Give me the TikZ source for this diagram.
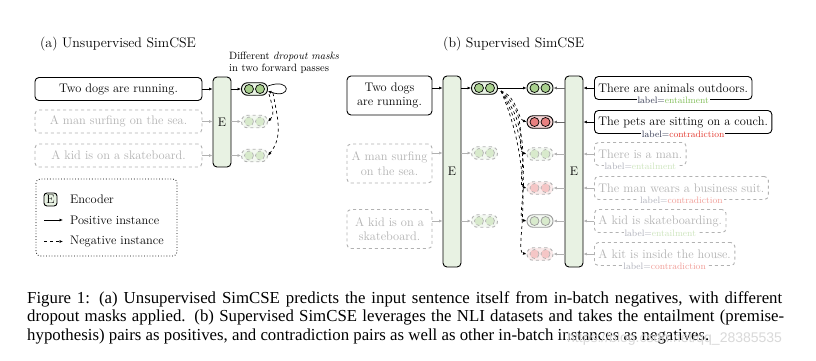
\documentclass[tikz,border=0pt]{standalone}
\usepackage{fontspec}
\newfontfamily\capfont{Liberation Serif}
\newfontfamily\wmfont{Liberation Sans}
\usetikzlibrary{arrows.meta}

\definecolor{encfill}{RGB}{232,242,227}
\definecolor{dotgreen}{RGB}{168,208,141}
\definecolor{dotred}{RGB}{232,128,128}
\definecolor{pillred}{RGB}{246,212,212}
\definecolor{entc}{RGB}{130,190,90}
\definecolor{conc}{RGB}{228,60,50}
\definecolor{labc}{RGB}{50,55,80}

\tikzset{
    sent/.style={draw, line width=0.9pt, rounded corners=4pt, minimum height=23pt, inner xsep=4pt, font=\fontsize{12.4}{14.5}\selectfont},
    faded/.style={draw=black!30, dashed, text=black!30},
    enc/.style={draw, line width=0.9pt, rounded corners=4pt, fill=encfill, minimum width=18pt, inner sep=0pt, font=\fontsize{12.4}{14.5}\selectfont},
    pill/.style={draw, line width=0.9pt, rounded corners=6pt, minimum width=26pt, minimum height=12.5pt, inner sep=0pt},
    dot/.style={circle, draw, line width=0.7pt, inner sep=0pt, minimum size=9pt},
    posarrow/.style={-{Latex[length=3.5pt,width=3pt]}, line width=0.7pt},
    negarrow/.style={posarrow, dashed},
    lbl/.style={fill=white, inner sep=1pt, font=\fontsize{9.3}{10}\selectfont, text=labc},
    title/.style={anchor=base west, inner sep=0pt, font=\fontsize{13.9}{16}\selectfont},
    capline/.style={anchor=base west, inner sep=0pt, font=\capfont\fontsize{16.8}{18}\selectfont}
}

% pill with two dots: name, position, pill options, dot options
\newcommand{\embed}[4]{%
    \node[pill,#3] (#1) at (#2) {};
    \node[dot,#4] (#1a) at ([xshift=-5.5pt]#1.center) {};
    \node[dot,#4] (#1b) at ([xshift=5.5pt]#1.center) {};
}

\begin{document}
\begin{tikzpicture}[x=1pt, y=1pt]
    \useasboundingbox[fill=white] (0,0) rectangle (816,-360);

    % Titles
    \node[title] (ta) at (40,-47) {(a) Unsupervised SimCSE};
    \node[title] (tb) at (443,-47) {(b) Supervised SimCSE};

    % (a) sentences and encoder
    \node[sent, minimum width=167pt] (s1) at (118.5,-89) {Two dogs are running.};
    \node[sent, faded, minimum width=167pt] (s2) at (118.5,-121.5) {A man surfing on the sea.};
    \node[sent, faded, minimum width=167pt] (s3) at (118.5,-155.5) {A kid is on a skateboard.};
    \node[enc, minimum height=90pt] (encA) at (222,-122) {E};
    \embed{u1}{254.5,-89}{fill=encfill}{fill=dotgreen}
    \embed{u2}{254.5,-121.5}{faded, fill=encfill!50}{faded, fill=dotgreen!45}
    \embed{u3}{254.5,-155.5}{faded, fill=encfill!50}{faded, fill=dotgreen!45}
    \node[anchor=north west, align=left, inner sep=0pt, font=\fontsize{10.6}{12}\selectfont] (note) at (229,-52)
        {Different \textit{dropout masks}\\in two forward passes};

    % (a) arrows
    \draw[posarrow] (s1.east) -- (encA.west |- s1);
    \draw[posarrow, black!30] (s2.east) -- (encA.west |- s2);
    \draw[posarrow, black!30] (s3.east) -- (encA.west |- s3);
    \draw[posarrow] (encA.east |- u1) -- (u1.west);
    \draw[posarrow, black!30] (encA.east |- u2) -- (u2.west);
    \draw[posarrow, black!30] (encA.east |- u3) -- (u3.west);
    \draw[posarrow] ([yshift=3pt]u1.east) .. controls +(24,9) and +(24,-9) .. ([yshift=-2pt]u1.east);
    \coordinate (ua) at (269,-94);
    \coordinate (ub) at (273,-93);
    \draw[negarrow] (ua) to[out=-75,in=45] (u2.east);
    \draw[negarrow] (ub) to[out=-80,in=50] (u3.east);

    % Legend
    \draw[dotted, line width=0.8pt, rounded corners=4pt] (36,-179) rectangle (177,-256);
    \node[enc, minimum width=13pt, minimum height=13pt, rounded corners=3pt] (legE) at (50.5,-199.5) {E};
    \node[anchor=west, inner sep=0pt, font=\fontsize{12.4}{14.5}\selectfont] (legEtxt) at (70,-199.5) {Encoder};
    \coordinate (lp1) at (44,-220);
    \coordinate (lp2) at (63,-220);
    \coordinate (ln1) at (44,-241.5);
    \coordinate (ln2) at (63,-241.5);
    \draw[posarrow] (lp1) -- (lp2);
    \draw[negarrow] (ln1) -- (ln2);
    \node[anchor=west, inner sep=0pt, font=\fontsize{12.4}{14.5}\selectfont] (legP) at (70,-220) {Positive instance};
    \node[anchor=west, inner sep=0pt, font=\fontsize{12.4}{14.5}\selectfont] (legN) at (70,-241.5) {Negative instance};

    % (b) premises and encoders
    \node[sent, align=center, minimum width=85pt, minimum height=39pt] (t1) at (389.5,-95.5) {Two dogs\\are running.};
    \node[sent, faded, align=center, minimum width=85pt, minimum height=39pt] (t2) at (389.5,-163.5) {A man surfing\\on the sea.};
    \node[sent, faded, align=center, minimum width=85pt, minimum height=39pt] (t3) at (389.5,-229) {A kid is on a\\skateboard.};
    \node[enc, minimum height=191pt] (encL) at (452,-171.5) {E};
    \node[enc, minimum height=191pt] (encR) at (574,-171.5) {E};
    \embed{l1}{484.5,-88}{fill=encfill}{fill=dotgreen}
    \embed{l2}{484.5,-153}{faded, fill=encfill!50}{faded, fill=dotgreen!45}
    \embed{l3}{484.5,-221}{faded, fill=encfill!50}{faded, fill=dotgreen!45}
    \embed{r1}{540,-88}{fill=encfill}{fill=dotgreen}
    \embed{r2}{540,-122}{fill=pillred}{fill=dotred}
    \embed{r3}{540,-154}{faded, fill=encfill!50}{faded, fill=dotgreen!45}
    \embed{r4}{540,-188}{faded, fill=pillred!50}{faded, fill=dotred!45}
    \embed{r5}{540,-221}{draw=black!40, fill=encfill!50}{draw=black!40, fill=dotgreen!45}
    \embed{r6}{540,-254}{faded, fill=pillred!50}{faded, fill=dotred!45}

    % (b) hypotheses
    \node[sent, anchor=west] (h1) at (594,-88) {There are animals outdoors.};
    \node[sent, anchor=west] (h2) at (594,-122) {The pets are sitting on a couch.};
    \node[sent, faded, anchor=west] (h3) at (594,-154) {There is a man.};
    \node[sent, faded, anchor=west] (h4) at (594,-188) {The man wears a business suit.};
    \node[sent, faded, anchor=west] (h5) at (594,-221) {A kid is skateboarding.};
    \node[sent, faded, anchor=west] (h6) at (594,-254) {A kit is inside the house.};
    \node[lbl] (g1) at (h1.south) {label=\textcolor{entc}{entailment}};
    \node[lbl] (g2) at (h2.south) {label=\textcolor{conc}{contradiction}};
    \node[lbl, text=labc!40] (g3) at (h3.south) {label=\textcolor{entc!40}{entailment}};
    \node[lbl, text=labc!40] (g4) at (h4.south) {label=\textcolor{conc!50}{contradiction}};
    \node[lbl, text=labc!40] (g5) at (h5.south) {label=\textcolor{entc!40}{entailment}};
    \node[lbl, text=labc!40] (g6) at (h6.south) {label=\textcolor{conc!50}{contradiction}};

    % (b) arrows
    \draw[posarrow] (t1.east |- l1) -- (encL.west |- l1);
    \draw[posarrow, black!30] (t2.east |- l2) -- (encL.west |- l2);
    \draw[posarrow, black!30] (t3.east |- l3) -- (encL.west |- l3);
    \draw[posarrow] (encL.east |- l1) -- (l1.west);
    \draw[posarrow, black!30] (encL.east |- l2) -- (l2.west);
    \draw[posarrow, black!30] (encL.east |- l3) -- (l3.west);
    \draw[posarrow] (h1.west) -- (encR.east |- h1);
    \draw[posarrow] (h2.west) -- (encR.east |- h2);
    \draw[posarrow, black!30] (h3.west) -- (encR.east |- h3);
    \draw[posarrow, black!30] (h4.west) -- (encR.east |- h4);
    \draw[posarrow, black!30] (h5.west) -- (encR.east |- h5);
    \draw[posarrow, black!30] (h6.west) -- (encR.east |- h6);
    \draw[posarrow, black!60] (encR.west |- r1) -- (r1.east);
    \draw[posarrow, black!60] (encR.west |- r2) -- (r2.east);
    \draw[posarrow, black!30] (encR.west |- r3) -- (r3.east);
    \draw[posarrow, black!30] (encR.west |- r4) -- (r4.east);
    \draw[posarrow, black!30] (encR.west |- r5) -- (r5.east);
    \draw[posarrow, black!30] (encR.west |- r6) -- (r6.east);
    \draw[posarrow] (l1.east) -- (r1.west);
    \coordinate (fan) at (501,-91);
    \draw[negarrow] (fan) to[out=-20,out distance=18,in=160,in distance=10] (r2.west);
    \draw[negarrow] (fan) to[out=-40,out distance=40,in=165,in distance=12] (r3.west);
    \draw[negarrow] (fan) to[out=-52,out distance=60,in=168,in distance=12] (r4.west);
    \draw[negarrow] (fan) to[out=-60,out distance=80,in=170,in distance=13] (r5.west);
    \draw[negarrow] (fan) to[out=-67,out distance=100,in=170,in distance=14] (r6.west);

    % Caption
    \node[capline] (cap1) at (27,-303) {\makebox[755pt][s]{Figure 1: (a) Unsupervised SimCSE predicts the input sentence itself from in-batch negatives, with different}};
    \node[capline] (cap2) at (27,-321.5) {\makebox[757pt][s]{dropout masks applied. (b) Supervised SimCSE leverages the NLI datasets and takes the entailment (premise-}};
    \node[capline] (cap3) at (27,-340) {hypothesis) pairs as positives, and contradiction pairs as well as other in-batch instances as negatives.};
    \node[anchor=base west, inner sep=0pt, text=black!15, font=\wmfont\fontsize{14}{16}\selectfont] (wm) at (567,-342) {https://blog.csdn.net/qq\_28385535};
\end{tikzpicture}
\end{document}
